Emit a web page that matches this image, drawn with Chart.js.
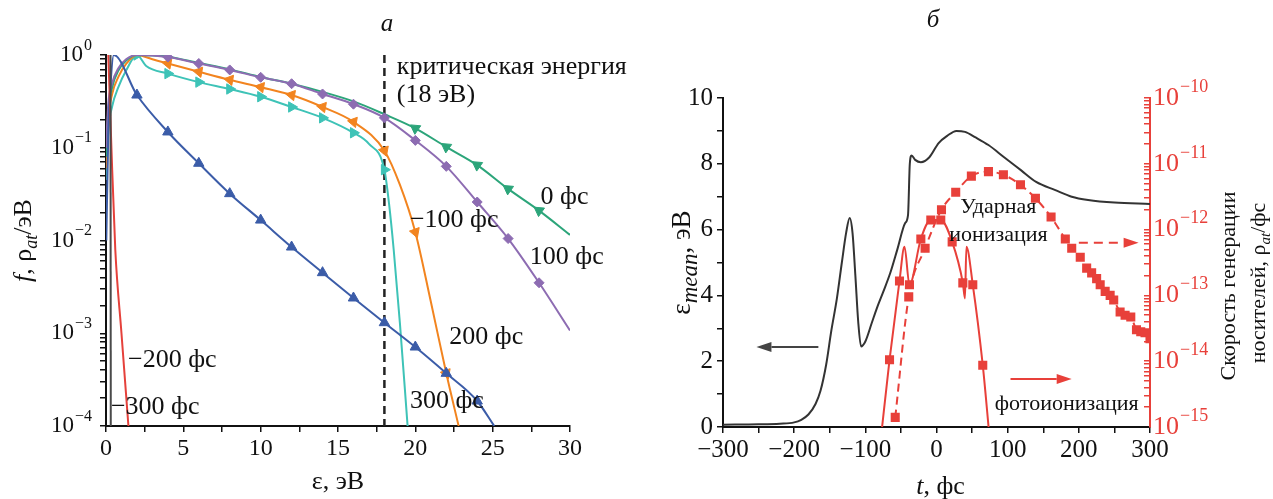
<!DOCTYPE html>
<html><head><meta charset="utf-8">
<script src="https://cdn.jsdelivr.net/npm/chart.js@4.4.1/dist/chart.umd.min.js"></script>
<style>
html,body{margin:0;padding:0;background:#fff;width:1273px;height:499px;overflow:hidden}
#ca{position:absolute;left:0;top:0}
#cb{position:absolute;left:640px;top:0}
</style></head><body>
<canvas id="ca" width="640" height="499"></canvas>
<canvas id="cb" width="633" height="499"></canvas>
<script>
// ===== Panel а: distribution f(ε), ρ_at/эВ =====
const epsM300 = [0.29, 0.31];
const fM300   = [1.0, 1e-4];
const epsM200 = [0.15, 0.35, 0.6, 1.0, 1.45];
const fM200   = [1.0, 0.1, 0.008, 0.001, 1e-4];
const epsM100 = [0.02, 0.15, 0.3, 0.5, 2, 4, 6, 8, 10, 12, 14, 16, 18, 20, 22, 24, 25.1];
const fM100   = [0.01, 0.15, 0.5, 1.0, 0.37, 0.148, 0.068, 0.032, 0.0166, 0.0085, 0.0045, 0.0024, 0.0013, 7.1e-4, 3.7e-4, 1.86e-4, 1.0e-4];
const eps0    = [0, 0.15, 0.4, 0.8, 1.3, 2, 4, 6, 8, 10, 12, 14, 16, 18, 20, 22, 24, 26, 28, 30];
const f0      = [0.08, 0.25, 0.45, 0.68, 0.87, 1.0, 0.96, 0.82, 0.7, 0.58, 0.49, 0.4, 0.316, 0.23, 0.162, 0.102, 0.065, 0.036, 0.021, 0.0115];
const eps100  = [0, 0.15, 0.4, 0.8, 1.3, 2, 4, 6, 8, 10, 12, 14, 16, 18, 20, 22, 24, 26, 28, 30];
const f100    = [0.1, 0.3, 0.5, 0.72, 0.9, 1.0, 0.95, 0.81, 0.69, 0.575, 0.49, 0.38, 0.295, 0.21, 0.12, 0.063, 0.026, 0.0105, 0.0035, 0.00107];
const eps200  = [0, 0.15, 0.4, 0.8, 1.3, 2, 3, 4, 6, 8, 10, 12, 14, 16, 18, 19, 20, 21, 22, 22.8];
const f200    = [0.06, 0.2, 0.38, 0.58, 0.8, 1.0, 0.9, 0.81, 0.66, 0.54, 0.45, 0.37, 0.275, 0.19, 0.093, 0.04, 0.0123, 0.0022, 3.7e-4, 1e-4];
const eps300  = [0, 0.15, 0.4, 0.8, 1.3, 2, 2.6, 4, 6, 8, 10, 12, 14, 16, 17, 18, 18.3, 18.6, 19.0, 19.5];
const f300    = [0.045, 0.15, 0.28, 0.45, 0.68, 1.0, 0.76, 0.63, 0.51, 0.43, 0.355, 0.275, 0.21, 0.145, 0.11, 0.058, 0.025, 0.008, 0.0013, 1e-4];
const critEnergy = 18;

// ===== Panel б: mean energy and generation rates =====
const tMean   = [-300,-250,-220,-200,-190,-180,-170,-163,-155,-148,-140,-133,-127,-122,-118,-114,-110,-106,-100,-91,-84,-75,-65,-55,-44,-40,-37.5,-35,-30,-22,-10,3,15,28,40,55,73,95,119,140,167,190,213,250,300];
const epsMean = [0.07,0.08,0.1,0.14,0.22,0.38,0.7,1.1,1.9,2.9,3.9,5.0,5.9,6.35,5.9,4.6,3.2,2.45,2.6,3.16,3.6,4.1,4.68,5.4,6.2,6.45,8.0,8.25,8.12,8.05,8.2,8.63,8.85,9.0,8.97,8.8,8.57,8.2,7.8,7.45,7.2,7.0,6.9,6.82,6.78];
const tPhoto    = [-78,-66,-52,-45,-38,-22,-8,6,22,37,40,42,51,65,74];
const ratePhoto = [7e-16,1.05e-14,1.66e-13,5.5e-13,1.45e-13,7.2e-13,1.4e-12,1.4e-12,6.5e-13,1.55e-13,9e-14,5.5e-13,1.45e-13,8.7e-15,8e-16];
const photoSpikeT = [-45, 40, 42];
const tImpact    = [-58,-39,-16,7,27,49,73,94,118,139,161,181,190,202,211,218,225,230,237,244,249,258,265,273,281,287,293,300];
const rateImpact = [1.4e-15,9.5e-14,5.2e-13,2.0e-12,3.7e-12,6.5e-12,7.6e-12,6.8e-12,4.8e-12,3.0e-12,1.55e-12,7.2e-13,5.2e-13,3.8e-13,2.6e-13,2.2e-13,1.8e-13,1.45e-13,1.15e-13,1.0e-13,8.5e-14,5.6e-14,5.0e-14,4.7e-14,3.0e-14,2.8e-14,2.7e-14,2.2e-14];

// ===== helpers =====
const SERIF = "'Liberation Serif', 'Times New Roman', 'DejaVu Serif', serif";
Chart.defaults.font.family = SERIF;
Chart.defaults.color = '#111';
Chart.defaults.animation = false;

const keepIntMantissa = s => { s.ticks = s.ticks.filter(t => { const e = Math.floor(Math.log10(t.value) + 1e-9); const m = t.value / Math.pow(10, e); return Math.abs(m - Math.round(m)) < 1e-6; }); };
const zip = (xs, ys) => xs.map((x, i) => ({x, y: ys[i]}));

function drawRich(ctx, parts, x, y, o) {
  const size = o.size, color = o.color || '#111';
  const fontOf = p => (p.i ? 'italic ' : '') + Math.round(p.sub ? size * (o.subScale || 0.7) : size) + 'px ' + SERIF;
  ctx.save();
  let w = 0;
  for (const p of parts) { ctx.font = fontOf(p); w += ctx.measureText(p.t).width; }
  ctx.translate(x, y);
  if (o.rot) ctx.rotate(o.rot);
  let cx = o.align === 'left' ? 0 : o.align === 'right' ? -w : -w / 2;
  ctx.textBaseline = 'middle'; ctx.textAlign = 'left'; ctx.fillStyle = color;
  for (const p of parts) {
    ctx.font = fontOf(p);
    ctx.fillText(p.t, cx, p.sub ? size * 0.3 : 0);
    cx += ctx.measureText(p.t).width;
  }
  ctx.restore();
}
// power-of-ten labels (10 with raised exponent) placed at the scale's own pixel positions
function drawPowLabels(ctx, scale, side, size, color, pad) {
  const lo = Math.round(Math.log10(scale.min)), hi = Math.round(Math.log10(scale.max));
  const es = Math.round(size * 0.68);
  ctx.save();
  ctx.fillStyle = color; ctx.textBaseline = 'middle'; ctx.textAlign = 'left';
  for (let e = lo; e <= hi; e++) {
    const y = scale.getPixelForValue(Math.pow(10, e));
    const ex = String(e).replace('-', '−');
    ctx.font = size + 'px ' + SERIF; const wb = ctx.measureText('10').width;
    ctx.font = es + 'px ' + SERIF; const we = ctx.measureText(ex).width;
    const x0 = side === 'left' ? scale.right - pad - wb - we - 1 : scale.left + pad;
    ctx.font = size + 'px ' + SERIF; ctx.fillText('10', x0, y);
    ctx.font = es + 'px ' + SERIF; ctx.fillText(ex, x0 + wb + 1, y - size * 0.42);
  }
  ctx.restore();
}
function arrow(ctx, x1, y1, x2, y2, color, dash) {
  ctx.save();
  ctx.strokeStyle = color; ctx.fillStyle = color; ctx.lineWidth = 2;
  const a = Math.atan2(y2 - y1, x2 - x1), hl = 15, hw = 5;
  const bx = x2 - hl * Math.cos(a), by = y2 - hl * Math.sin(a);
  if (dash) ctx.setLineDash(dash);
  ctx.beginPath(); ctx.moveTo(x1, y1); ctx.lineTo(bx, by); ctx.stroke();
  ctx.setLineDash([]);
  ctx.beginPath(); ctx.moveTo(x2, y2);
  ctx.lineTo(bx - hw * Math.sin(a), by + hw * Math.cos(a));
  ctx.lineTo(bx + hw * Math.sin(a), by - hw * Math.cos(a));
  ctx.closePath(); ctx.fill();
  ctx.restore();
}
function curve(xs, ys, color, style, rot, lo, hi, r) {
  return {
    data: zip(xs, ys), borderColor: color, backgroundColor: color, borderWidth: 2,
    pointStyle: style, rotation: rot, pointBorderWidth: 1, pointBorderColor: color,
    pointRadius: c => (c.raw.x >= lo && c.raw.x <= hi && Number.isInteger(c.raw.x / 2)) ? r : 0,
    cubicInterpolationMode: 'monotone', fill: false
  };
}
const axisBase = (size, color) => ({
  border: {color: color, width: 2},
  grid: {drawOnChartArea: false, color: color, tickLength: 6, lineWidth: 1.5},
  ticks: {font: {size: size}, color: color, autoSkip: false, maxRotation: 0, minRotation: 0}
});

// ===== Panel а =====
const textA = ['критическая энергия', '(18 эВ)', '0 фс', '100 фс', '−100 фс', '200 фс', '300 фс', '−200 фс', '−300 фс'];
const posA  = [[18.8, 0.741], [18.8, 0.372], [28.1, 0.0295], [27.4, 0.0066], [19.65, 0.0166], [22.2, 9.1e-4], [19.65, 1.86e-4], [1.42, 5.1e-4], [0.32, 1.58e-4]];

const pluginA = {
  id: 'pa',
  afterDraw(chart) {
    const {ctx, chartArea: ca, scales: {x, y}} = chart;
    drawPowLabels(ctx, y, 'left', 23, '#111', 14);
    drawRich(ctx, [{t: 'а', i: true}], 387, 24, {size: 25});
    drawRich(ctx, [{t: 'ε, эВ'}], (ca.left + ca.right) / 2, 482, {size: 26});
    drawRich(ctx, [{t: 'f', i: true}, {t: ', ρ'}, {t: 'at', i: true, sub: true}, {t: '/эВ'}], 24, (ca.top + ca.bottom) / 2, {size: 26, rot: -Math.PI / 2});
    textA.forEach((s, i) => drawRich(ctx, [{t: s}], x.getPixelForValue(posA[i][0]), y.getPixelForValue(posA[i][1]), {size: 26, align: 'left'}));
  }
};

const xA = axisBase(24, '#111');
Object.assign(xA, {type: 'linear', position: 'bottom', min: 0, max: 30, afterFit: s => { s.height = 73; }});
Object.assign(xA.ticks, {stepSize: 2.5, padding: 2, callback: v => (v % 5 === 0 ? String(v) : '')});
const yA = axisBase(22, '#111');
Object.assign(yA, {type: 'logarithmic', position: 'left', min: 1e-4, max: 1, afterFit: s => { s.width = 106; }, afterBuildTicks: keepIntMantissa});
Object.assign(yA.ticks, {callback: () => ''});

new Chart(document.getElementById('ca'), {
  type: 'line',
  data: {datasets: [
    curve(epsM300, fM300, '#4a4a4a', 'circle', 0, 99, 99, 0),
    curve(epsM200, fM200, '#e5413b', 'circle', 0, 99, 99, 0),
    curve(epsM100, fM100, '#3b5ca8', 'triangle', 0, 2, 24, 6),
    curve(eps100, f100, '#8d6cb2', 'rectRot', 0, 4, 28, 5),
    curve(eps0, f0, '#2ca57a', 'triangle', -55, 20, 28, 6),
    curve(eps200, f200, '#f2841f', 'triangle', -80, 4, 22, 6),
    curve(eps300, f300, '#3ec3b7', 'triangle', 90, 2, 18, 6),
    {data: [{x: critEnergy, y: 1}, {x: critEnergy, y: 1e-4}], borderColor: '#222', borderWidth: 2.5, borderDash: [8, 5], pointRadius: 0}
  ]},
  options: {
    responsive: false, animation: false,
    layout: {padding: {top: 55, right: 70, bottom: 0, left: 0}},
    plugins: {legend: {display: false}, tooltip: {enabled: false}},
    scales: {x: xA, y: yA}
  },
  plugins: [pluginA]
});

// ===== Panel б =====
const red = '#e8403a';
const pluginB = {
  id: 'pb',
  afterDraw(chart) {
    const {ctx, chartArea: ca, scales: {x, y, y1}} = chart;
    drawPowLabels(ctx, y1, 'right', 26, red, 3);
    drawRich(ctx, [{t: 'б', i: true}], 293, 20, {size: 25});
    drawRich(ctx, [{t: 't', i: true}, {t: ', фс'}], (ca.left + ca.right) / 2 + 4, 487, {size: 26});
    drawRich(ctx, [{t: 'ε'}, {t: 'mean', i: true, sub: true}, {t: ', эВ'}], 43, (ca.top + ca.bottom) / 2, {size: 27, rot: -Math.PI / 2, subScale: 0.85});
    drawRich(ctx, [{t: 'Скорость генерации'}], 589, 286, {size: 22, rot: -Math.PI / 2});
    drawRich(ctx, [{t: 'носителей, ρ'}, {t: 'at', i: true, sub: true}, {t: '/фс'}], 619, 283, {size: 22, rot: -Math.PI / 2});
    drawRich(ctx, [{t: 'Ударная'}], x.getPixelForValue(87), y.getPixelForValue(6.69), {size: 22});
    drawRich(ctx, [{t: 'ионизация'}], x.getPixelForValue(87), y.getPixelForValue(5.84), {size: 22});
    drawRich(ctx, [{t: 'фотоионизация'}], x.getPixelForValue(183), y.getPixelForValue(0.7), {size: 22});
    arrow(ctx, x.getPixelForValue(-166), y.getPixelForValue(2.43), x.getPixelForValue(-253), y.getPixelForValue(2.43), '#444');
    arrow(ctx, x.getPixelForValue(104), y.getPixelForValue(1.46), x.getPixelForValue(190), y.getPixelForValue(1.46), red);
    arrow(ctx, x.getPixelForValue(200), y.getPixelForValue(5.6), x.getPixelForValue(284), y.getPixelForValue(5.6), red, [9, 6]);
  }
};

const xB = axisBase(25, '#111');
Object.assign(xB, {type: 'linear', position: 'bottom', min: -300, max: 300, afterFit: s => { s.height = 72; }});
Object.assign(xB.ticks, {stepSize: 50, padding: 2, callback: v => (v % 100 === 0 ? String(v).replace('-', '−') : '')});
const yB = axisBase(25, '#111');
Object.assign(yB, {type: 'linear', position: 'left', min: 0, max: 10, afterFit: s => { s.width = 83; }});
Object.assign(yB.ticks, {stepSize: 1, padding: 4, callback: v => (v % 2 === 0 ? String(v) : '')});
const y1B = axisBase(25, red);
Object.assign(y1B, {type: 'logarithmic', position: 'right', min: 1e-15, max: 1e-10, afterFit: s => { s.width = 123; }, afterBuildTicks: keepIntMantissa});
y1B.grid.tickLength = -6;
Object.assign(y1B.ticks, {callback: () => ''});

new Chart(document.getElementById('cb'), {
  type: 'line',
  data: {datasets: [
    {data: zip(tPhoto, ratePhoto), yAxisID: 'y1', borderColor: red, backgroundColor: red, borderWidth: 2,
     pointStyle: 'rect', pointRadius: c => (photoSpikeT.includes(c.raw.x) ? 0 : 5), cubicInterpolationMode: 'monotone'},
    {data: zip(tImpact, rateImpact), yAxisID: 'y1', borderColor: red, backgroundColor: red, borderWidth: 2, borderDash: [8, 5],
     pointStyle: 'rect', pointRadius: 5, cubicInterpolationMode: 'monotone'},
    {data: zip(tMean, epsMean), yAxisID: 'y', borderColor: '#333', borderWidth: 2, pointRadius: 0, cubicInterpolationMode: 'monotone'}
  ]},
  options: {
    responsive: false, animation: false,
    layout: {padding: {top: 98, right: 0, bottom: 0, left: 0}},
    plugins: {legend: {display: false}, tooltip: {enabled: false}},
    scales: {x: xB, y: yB, y1: y1B}
  },
  plugins: [pluginB]
});
</script>
</body></html>
